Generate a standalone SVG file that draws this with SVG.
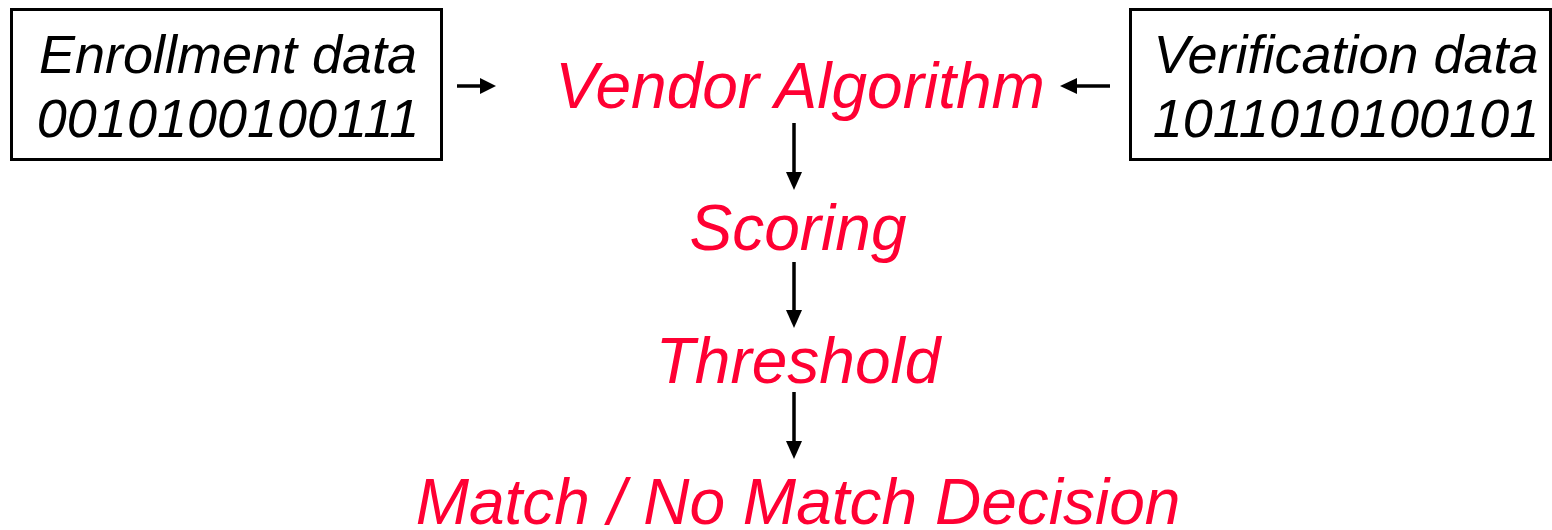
<svg xmlns="http://www.w3.org/2000/svg" width="1552" height="530" viewBox="0 0 1552 530">
<defs>
<style>
.box{fill:#fff;stroke:#000;stroke-width:3}
.bt{font-family:"Liberation Sans",Arial,sans-serif;font-style:italic;font-size:54px;fill:#000;text-anchor:middle}
.rt{font-family:"Liberation Sans",Arial,sans-serif;font-style:italic;font-size:64px;fill:#FF0033;text-anchor:middle}
.c{stroke:#000;stroke-width:3.5;fill:none}
.h{fill:#000;stroke:none}
</style>
</defs>
<rect width="1552" height="530" fill="#fff"/>
<g id="enroll">
<rect class="box" x="11.5" y="9.5" width="430" height="150"/>
<text class="bt" x="228" y="73">Enrollment data</text>
<text class="bt" x="228" y="137">0010100100111</text>
</g>
<g id="verify">
<rect class="box" x="1130.5" y="9.5" width="420" height="150"/>
<text class="bt" x="1346" y="73">Verification data</text>
<text class="bt" x="1346" y="137">1011010100101</text>
</g>
<g id="vendor"><text class="rt" x="800" y="108">Vendor Algorithm</text></g>
<g id="scoring"><text class="rt" x="798" y="250">Scoring</text></g>
<g id="threshold"><text class="rt" x="798" y="383">Threshold</text></g>
<g id="decision"><text class="rt" x="798" y="524">Match / No Match Decision</text></g>
<g id="connectors">
<line class="c" x1="457" y1="86" x2="482" y2="86"/>
<path class="h" d="M480,78 L496,86 L480,94 z"/>
<line class="c" x1="1110" y1="86" x2="1075" y2="86"/>
<path class="h" d="M1077,78 L1060,86 L1077,94 z"/>
<line class="c" x1="794" y1="123" x2="794" y2="174"/>
<path class="h" d="M786,172 L794,190 L802,172 z"/>
<line class="c" x1="794" y1="262" x2="794" y2="312"/>
<path class="h" d="M786,310 L794,328 L802,310 z"/>
<line class="c" x1="794" y1="392" x2="794" y2="443"/>
<path class="h" d="M786,441 L794,459 L802,441 z"/>
</g>
</svg>
